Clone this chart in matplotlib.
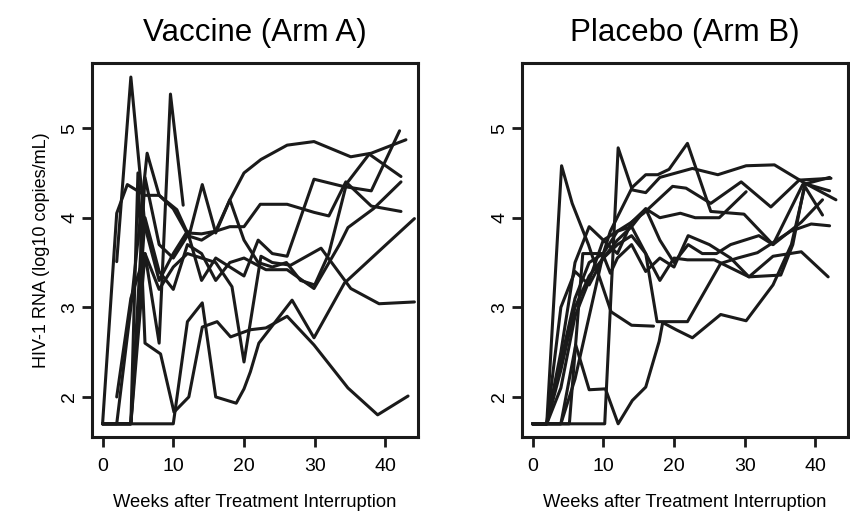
import matplotlib
matplotlib.use("Agg")
import matplotlib.pyplot as plt

# viral load per subject (weeks after interruption, log10 copies/mL)
vaccine_weeks = [
    [0, 2, 4, 6, 8, 10, 12, 14, 16, 18, 20, 22.4, 26.1, 29.9, 35.1, 38, 42.9],
    [2, 4, 6, 8, 10, 12, 14, 16, 18, 20, 22, 24, 26.1, 29.9, 34, 38, 42],
    [0, 2, 3.5, 6, 8, 10, 12.2, 14.1, 16, 18, 20, 22, 24, 26, 28, 30, 32, 34.5, 37.7, 42.2],
    [0, 2, 4, 6, 8, 10, 12, 14, 16, 18, 20, 23.1, 26.1, 29.9, 33.5, 34.7, 38.3, 42.2],
    [0, 2, 4, 6.3, 8, 10.5, 12, 14, 16, 18, 20, 22.3, 26.1, 29.9, 32, 34.4, 38, 42.2],
    [0, 2, 4, 6, 8, 10, 12, 14.1, 16, 18.9, 20, 20.9, 22.1, 26.8, 29.9, 34.2, 40.1, 44.1],
    [2, 4, 6, 8, 10, 12, 14, 16, 18.3, 20, 22.4, 24, 26.6, 30.9, 35.1, 39.1, 44.1],
    [0, 2, 4, 5, 6, 8.2, 10.1, 12.2, 14.1, 16.2, 18.1, 20.9, 23.1, 26.1, 29.9, 34.7, 38.9, 43.2],
    [0, 2, 4, 6, 8, 9.6, 11.4],
]
vaccine_rna = [
    [1.7, 1.7, 1.7, 4.45, 3.7, 3.55, 3.8, 3.75, 3.85, 4.2, 4.5, 4.65, 4.81, 4.85, 4.68, 4.72, 4.87],
    [3.51, 5.57, 3.9, 3.3, 3.6, 3.85, 3.3, 3.55, 3.45, 3.35, 3.75, 3.6, 3.57, 4.43, 4.35, 4.30, 4.97],
    [1.7, 4.05, 4.37, 4.25, 4.25, 4.1, 3.79, 4.37, 3.83, 4.2, 3.75, 3.5, 3.45, 3.5, 3.3, 3.25, 3.6, 4.38, 4.71, 4.46],
    [1.7, 1.7, 1.7, 4.0, 3.4, 3.2, 3.7, 3.6, 3.3, 3.5, 3.55, 3.42, 3.42, 3.21, 3.70, 3.89, 4.1, 4.40],
    [1.7, 1.7, 3.0, 4.72, 4.25, 4.09, 3.83, 3.82, 3.85, 3.9, 3.9, 4.15, 4.15, 4.06, 4.02, 4.40, 4.13, 4.07],
    [1.7, 1.7, 1.7, 1.7, 1.7, 1.7, 2.84, 3.05, 2.0, 1.93, 2.09, 2.28, 2.60, 3.08, 2.66, 3.27, 3.70, 3.99],
    [2.0, 3.1, 3.6, 3.2, 3.45, 3.6, 3.55, 3.5, 3.23, 2.39, 3.57, 3.5, 3.47, 3.66, 3.21, 3.04, 3.06],
    [1.7, 1.7, 1.7, 4.5, 2.6, 2.48, 1.83, 2.0, 2.78, 2.84, 2.67, 2.75, 2.77, 2.90, 2.58, 2.10, 1.80, 2.01],
    [1.7, 1.7, 1.7, 3.6, 2.6, 5.38, 4.14],
]

placebo_weeks = [
    [0, 2, 4, 6, 8, 10.2, 12.1, 14.1, 16, 18, 22.6, 26.2, 30.2, 34.2, 38.4, 42.9],
    [0, 2, 4, 6, 8, 10, 11, 14.1, 16, 17.7, 19.3, 21.9, 25.2, 29.9, 34, 38.2, 42],
    [0, 2, 4.1, 5.6, 7.9, 11.1, 14, 17.1],
    [0, 2, 4, 6.1, 8, 10.3, 12.1, 14.1, 16, 17.9, 18.4, 20.3, 22.6, 26.6, 30.2, 34, 36.6, 38.5, 41],
    [0, 2, 4, 5.2, 7.1, 9.9, 11, 12, 14, 16, 18, 20, 22, 25, 28, 30.6, 34, 38, 41.8],
    [0, 2, 4, 6, 8, 10, 12, 14, 16, 18, 20, 21.9, 25.7, 30.6, 35.1, 36.8, 38.5, 42],
    [0, 2, 4, 6, 8, 10, 12, 14, 16, 17.6, 19, 21.9, 26.6, 29, 31.8, 36.5, 39.4, 42],
    [0, 2, 4, 6, 8, 10, 12, 14, 16, 18, 20.9, 23, 26.4, 30.2],
    [0, 2, 4, 6, 8, 10, 12, 14, 15.7, 19.8, 21.7, 25.2, 29.5, 33.7, 37.7, 42.2],
    [0, 2, 4, 6, 8, 10, 12, 14, 16, 18, 20, 22, 24, 26, 28, 30, 32, 34, 38, 41],
]
placebo_rna = [
    [1.7, 1.7, 1.7, 1.7, 1.7, 1.7, 4.78, 4.31, 4.28, 4.45, 4.55, 4.48, 4.58, 4.59, 4.39, 4.20],
    [1.7, 1.7, 2.4, 3.1, 3.5, 3.6, 3.85, 4.34, 4.48, 4.48, 4.54, 4.83, 4.07, 4.04, 3.70, 4.37, 4.45],
    [1.7, 1.7, 4.58, 4.16, 3.70, 2.95, 2.8, 2.79],
    [1.7, 1.7, 1.7, 2.58, 2.08, 2.09, 1.70, 1.96, 2.11, 2.62, 2.83, 2.75, 2.66, 2.92, 2.85, 3.25, 3.7, 4.35, 4.03],
    [1.7, 1.7, 1.7, 1.7, 3.6, 3.6, 3.38, 3.55, 3.7, 3.4, 3.55, 3.45, 3.8, 3.7, 3.55, 3.34, 3.57, 3.62, 3.34],
    [1.7, 1.7, 3.0, 3.4, 3.25, 3.55, 3.75, 3.9, 3.6, 3.3, 3.55, 3.53, 3.53, 3.34, 3.36, 3.70, 4.38, 4.30],
    [1.7, 1.7, 2.3, 3.0, 3.35, 3.55, 3.7, 3.8, 3.6, 2.84, 2.84, 2.84, 3.49, 3.55, 3.61, 3.85, 3.93, 3.91],
    [1.7, 1.7, 2.1, 2.9, 3.3, 3.75, 3.85, 3.9, 4.1, 4.0, 4.05, 4.0, 4.0, 4.29],
    [1.7, 1.7, 1.7, 2.2, 2.9, 3.6, 3.85, 3.95, 4.05, 4.35, 4.33, 4.16, 4.40, 4.12, 4.42, 4.44],
    [1.7, 1.7, 2.5, 3.5, 3.9, 3.75, 3.6, 3.95, 4.1, 3.75, 3.5, 3.7, 3.6, 3.6, 3.7, 3.75, 3.8, 3.7, 3.95, 4.2],
]

x_ticks = [0, 10, 20, 30, 40]
y_ticks = [2, 3, 4, 5]

plt.rcParams['font.family'] = ['Liberation Sans', 'DejaVu Sans']

fig = plt.figure(figsize=(8.5, 5.15), dpi=100)
axA = fig.add_axes([0.1082, 0.1515, 0.3835, 0.7262])
axB = fig.add_axes([0.6141, 0.1515, 0.3835, 0.7262])


def spaghetti(ax, weeks, rna, title):
    for w, r in zip(weeks, rna):
        ax.plot(w, r, color='#1a1a1a', lw=2.2, solid_joinstyle='round', solid_capstyle='round')
    ax.set_xlim(-1.5, 44.6)
    ax.set_ylim(1.553, 5.727)
    ax.set_xticks(x_ticks)
    ax.set_yticks(y_ticks)
    ax.tick_params(direction='out', length=7, width=2, color='#1a1a1a', labelsize=14)
    ax.tick_params(axis='x', pad=8)
    ax.tick_params(axis='y', pad=3)
    for t in ax.get_yticklabels():
        t.set_rotation(90)
        t.set_va('center')
    for s in ax.spines.values():
        s.set_linewidth(2.2)
        s.set_color('#1a1a1a')
    ax.set_title(title, fontsize=22.5, pad=16)
    ax.set_xlabel("Weeks after Treatment Interruption", fontsize=13.2, labelpad=14)


spaghetti(axA, vaccine_weeks, vaccine_rna, "Vaccine (Arm A)")
spaghetti(axB, placebo_weeks, placebo_rna, "Placebo (Arm B)")
axA.set_ylabel("HIV-1 RNA (log10 copies/mL)", fontsize=13, labelpad=8)

fig.savefig("out.png", dpi=100)
